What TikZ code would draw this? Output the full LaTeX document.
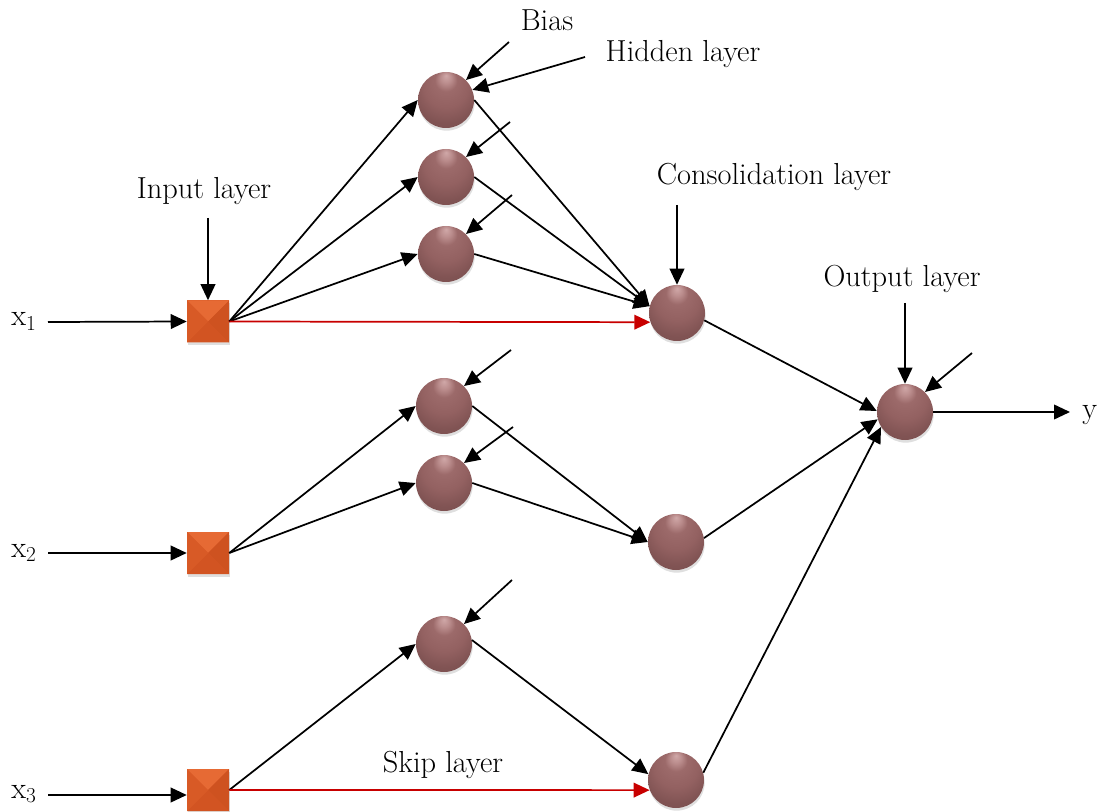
\documentclass[tikz,border=0pt]{standalone}
\usepackage{fontspec}
\usetikzlibrary{arrows.meta,shadows,calc}

% neuron colours
\definecolor{nb0}{RGB}{208,168,168}
\definecolor{nb1}{RGB}{186,140,140}
\definecolor{nb2}{RGB}{156,106,106}
\definecolor{nb3}{RGB}{147,97,97}
\definecolor{nb4}{RGB}{128,83,83}
\definecolor{nb5}{RGB}{116,75,75}
% input box colours
\definecolor{sqtop}{RGB}{230,106,52}
\definecolor{sqleft}{RGB}{216,90,38}
\definecolor{sqright}{RGB}{206,82,32}
\definecolor{sqbot}{RGB}{210,84,34}
\definecolor{skipred}{RGB}{200,0,0}

\pgfdeclareradialshading{neuronball}{\pgfqpoint{0bp}{22bp}}{%
  color(0bp)=(nb0); color(5bp)=(nb1); color(10bp)=(nb2);
  color(20bp)=(nb3); color(30bp)=(nb4); color(50bp)=(nb5)}

\tikzset{
  neuron/.style={circle, minimum size=42pt, inner sep=0pt, shading=neuronball,
    drop shadow={opacity=0.25, shadow xshift=0.5pt, shadow yshift=-2pt}},
  inbox/.style={rectangle, minimum size=31.5pt, inner sep=0pt, fill=sqleft,
    drop shadow={opacity=0.25, shadow xshift=0.5pt, shadow yshift=-2pt},
    path picture={
      \fill[sqtop] (path picture bounding box.north west) -- (path picture bounding box.north east) -- (path picture bounding box.center) -- cycle;
      \fill[sqright] (path picture bounding box.north east) -- (path picture bounding box.south east) -- (path picture bounding box.center) -- cycle;
      \fill[sqbot] (path picture bounding box.south east) -- (path picture bounding box.south west) -- (path picture bounding box.center) -- cycle;
      \fill[sqleft] (path picture bounding box.south west) -- (path picture bounding box.north west) -- (path picture bounding box.center) -- cycle;
    }},
  conn/.style={-{Triangle[length=12pt,width=11pt]}, line width=1.3pt},
  skip/.style={conn, draw=skipred, -{Triangle[length=12pt,width=11pt,fill=skipred]}},
  lbl/.style={font=\fontsize{22.8}{27}\selectfont, anchor=base, inner sep=0pt},
}

\begin{document}
\begin{tikzpicture}[x=0.75pt, y=-0.75pt]
\useasboundingbox (0,0) rectangle (1102,812);

% input boxes
\node[inbox] (sq1) at (208,321.5) {};
\node[inbox] (sq2) at (208,553) {};
\node[inbox] (sq3) at (208,790) {};

% hidden neurons
\node[neuron] (H1) at (446,100) {};
\node[neuron] (H2) at (446,177) {};
\node[neuron] (H3) at (446,254) {};
\node[neuron] (H4) at (444,406) {};
\node[neuron] (H5) at (444,483) {};
\node[neuron] (H6) at (444,644) {};

% consolidation neurons
\node[neuron] (C1) at (677,313) {};
\node[neuron] (C2) at (676,542) {};
\node[neuron] (C3) at (676,780) {};

% output neuron
\node[neuron] (O) at (905,412) {};

% labels
\node[lbl] (tBias) at (547,31) {Bias};
\node[lbl] (tHidden) at (683,62) {Hidden layer};
\node[lbl] (tInput) at (204,199) {Input layer};
\node[lbl] (tCons) at (774,185) {Consolidation layer};
\node[lbl] (tOut) at (902,287) {Output layer};
\node[lbl] (tSkip) at (443,772) {Skip layer};
\node[lbl, anchor=base west] (tx1) at (11,326) {x\textsubscript{1}};
\node[lbl, anchor=base west] (tx2) at (11,557) {x\textsubscript{2}};
\node[lbl, anchor=base west] (tx3) at (11,798) {x\textsubscript{3}};
\node[lbl, anchor=base west] (ty) at (1082,418) {y};

% free ends of connectors
\coordinate (in1) at (48,322);
\coordinate (in2) at (48,553);
\coordinate (in3) at (48,795);
\coordinate (yout) at (1070,412);
\coordinate (il) at (208,218);
\coordinate (cl) at (677,205);
\coordinate (ol) at (905,303);
\coordinate (hl) at (585,57);
\coordinate (bH1) at (509,42);
\coordinate (bH2) at (510,122);
\coordinate (bH3) at (512,195);
\coordinate (bH4) at (511,350);
\coordinate (bH5) at (513,427);
\coordinate (bH6) at (512,580);
\coordinate (bO) at (972,353);

% inputs
\draw[conn] (in1) -- (sq1.west);
\draw[conn] (in2) -- (sq2.west);
\draw[conn] (in3) -- (in3 -| sq3.west);

% layer pointers
\draw[conn] (il) -- (sq1.north);
\draw[conn] (cl) -- (C1.north);
\draw[conn] (ol) -- (O.north);
\draw[conn] (hl) -- (H1.21);

% biases
\draw[conn] (bH1) -- (H1.45);
\draw[conn] (bH2) -- (H2.45);
\draw[conn] (bH3) -- (H3.45);
\draw[conn] (bH4) -- (H4.45);
\draw[conn] (bH5) -- (H5.45);
\draw[conn] (bH6) -- (H6.45);
\draw[conn] (bO) -- (O.45);

% input to hidden
\draw[conn] (sq1.east) -- (H1.west);
\draw[conn] (sq1.east) -- (H2.west);
\draw[conn] (sq1.east) -- (H3.west);
\draw[conn] (sq2.east) -- (H4.west);
\draw[conn] (sq2.east) -- (H5.west);
\draw[conn] (sq3.east) -- (H6.west);

% skip connections
\draw[skip] (sq1.east) -- (C1.199);
\draw[skip] (sq3.east) -- (C3.201);

% hidden to consolidation
\draw[conn] (H1.east) -- (C1.166);
\draw[conn] (H2.east) -- (C1.166);
\draw[conn] (H3.east) -- (C1.166);
\draw[conn] (H4.east) -- (C2.west);
\draw[conn] (H5.east) -- (C2.west);
\draw[conn] (H6.8) -- (C3.168);

% consolidation to output
\draw[conn] (C1.-15) -- (O.178);
\draw[conn] (C2.8) -- (O.195);
\draw[conn] (C3.15) -- (O.212);

% output
\draw[conn] (O.east) -- (yout);
\end{tikzpicture}
\end{document}
